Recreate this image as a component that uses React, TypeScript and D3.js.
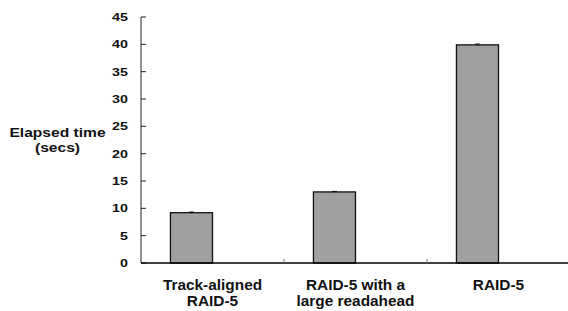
import React from 'react';
import * as d3 from 'd3';

const categories = ['Track-aligned RAID-5', 'RAID-5 with a large readahead', 'RAID-5'];
const categoryLines = [['Track-aligned', 'RAID-5'], ['RAID-5 with a', 'large readahead'], ['RAID-5']];
const elapsed = [9.2, 13.0, 39.9];
const elapsedErr = [0.12, 0.1, 0.15];
const yTicks = [0, 5, 10, 15, 20, 25, 30, 35, 40, 45];
const series = ['elapsed', 'empty'];

const W = 568;
const H = 311;
const FONT = 'Arial, "Liberation Sans", Helvetica, sans-serif';

const App = () => {
  const y = d3.scaleLinear().domain([0, 45]).range([263, 17]);
  const x = d3.scaleBand().domain(categories).range([141, 570]).paddingInner(0).paddingOuter(0);
  const xs = d3.scaleBand().domain(series).range([0, x.bandwidth()]).paddingInner(0).paddingOuter(0.7);

  const stretch = (tx, ty, sx) => 'translate(' + tx + ',' + ty + ') scale(' + sx + ',1)';

  return (
    <svg width={W} height={H} style={{ position: 'absolute', left: 0, top: 0, background: '#fff' }}>
      {/* y axis */}
      <line x1={141} x2={141} y1={y(45)} y2={y(0)} stroke="#6e6e6e" strokeWidth={1.5} />
      {yTicks.map(t => (
        <g key={t}>
          <line x1={141} x2={146} y1={y(t)} y2={y(t)} stroke="#222" strokeWidth={1} />
          <text
            transform={stretch(128, y(t) + 4, 1.3)}
            textAnchor="end"
            fontFamily={FONT}
            fontWeight="bold"
            fontSize={11}
            fill="#111"
          >
            {t}
          </text>
        </g>
      ))}

      {/* bars */}
      {categories.map((c, i) => {
        const bx = x(c) + xs('elapsed');
        const bw = xs.bandwidth();
        const cx = bx + bw / 2;
        return (
          <g key={c}>
            <rect x={bx} y={y(elapsed[i])} width={bw} height={y(0) - y(elapsed[i])} fill="#a0a0a0" stroke="#111" strokeWidth={1.3} />
            <line x1={cx} x2={cx} y1={y(elapsed[i] + elapsedErr[i])} y2={y(elapsed[i] - elapsedErr[i])} stroke="#111" strokeWidth={1} />
            <line x1={cx - 2.5} x2={cx + 2.5} y1={y(elapsed[i] + elapsedErr[i])} y2={y(elapsed[i] + elapsedErr[i])} stroke="#111" strokeWidth={1} />
          </g>
        );
      })}

      {/* x axis */}
      <line x1={141} x2={W} y1={y(0)} y2={y(0)} stroke="#000" strokeWidth={1.5} />
      {categories.slice(1).map(c => (
        <line key={c} x1={x(c)} x2={x(c)} y1={y(0)} y2={y(0) - 4} stroke="#777" strokeWidth={1} />
      ))}
      {categories.map((c, i) => {
        const cx = x(c) + x.bandwidth() / 2;
        return categoryLines[i].map((ln, j) => (
          <text
            key={c + j}
            transform={stretch(cx, 290 + j * 16, 1.1)}
            textAnchor="middle"
            fontFamily={FONT}
            fontWeight="bold"
            fontSize={14}
            fill="#111"
          >
            {ln}
          </text>
        ));
      })}

      {/* y label */}
      {['Elapsed time', '(secs)'].map((ln, j) => (
        <text
          key={ln}
          transform={stretch(57.5, 137 + j * 15, 1.2)}
          textAnchor="middle"
          fontFamily={FONT}
          fontWeight="bold"
          fontSize={13}
          fill="#111"
        >
          {ln}
        </text>
      ))}
    </svg>
  );
};

export default App;
